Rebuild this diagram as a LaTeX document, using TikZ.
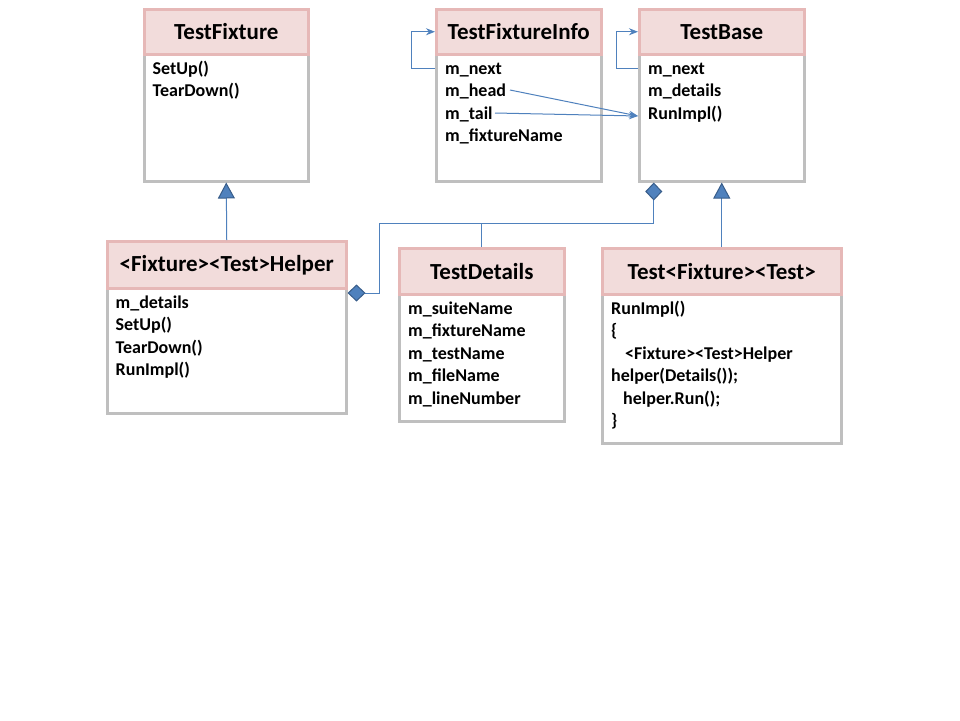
\documentclass[tikz,border=0pt]{standalone}
\usepackage{fontspec}
\setmainfont{Carlito}
\usetikzlibrary{arrows.meta,positioning,calc}

\definecolor{hdrfill}{RGB}{242,220,219}
\definecolor{hdrline}{RGB}{230,184,183}
\definecolor{bodyline}{RGB}{191,191,191}
\definecolor{linkblue}{RGB}{79,129,189}
\definecolor{tipedge}{RGB}{56,93,138}

\tikzset{
  >={Stealth[length=9pt,width=7pt]},
  every node/.append style={font=\bfseries},
}
\tikzset{
  hdr/.style={draw=hdrline, fill=hdrfill, line width=2.5pt, anchor=north west, inner sep=0pt,
    font=\fontsize{23}{27}\selectfont\bfseries},
  body/.style={draw=bodyline, fill=white, line width=2.5pt, anchor=north west, inner sep=0pt},
  members/.style={font=\fontsize{18}{22.5}\selectfont\bfseries, align=left, inner sep=0pt},
  link/.style={draw=linkblue, line width=1pt}
}

\begin{document}
\begin{tikzpicture}[
  x=1pt, y=-1pt,
  inherit/.style={link, -{Triangle[length=16pt, width=17pt, fill=linkblue, color=tipedge]}},
  agg/.style={link, {Diamond[length=18pt, width=17pt, fill=linkblue, color=tipedge]}-{Diamond[length=18pt, width=17pt, fill=linkblue, color=tipedge]}}
]
\useasboundingbox (0,0) rectangle (960,720);

% --- TestFixture ---
\node[body, minimum width=164pt, minimum height=127pt] (fixbody) at (143,53) {};
\node[hdr, minimum width=164pt, minimum height=45pt] (fix) at (143,8) {TestFixture};
\node[members, below right=5.25pt and 9.5pt of fixbody.north west] (fixmem) {\strut SetUp()\\TearDown()};

% --- TestFixtureInfo ---
\node[body, minimum width=165pt, minimum height=127pt] (infobody) at (435,53) {};
\node[hdr, minimum width=165pt, minimum height=45pt] (info) at (435,8) {TestFixtureInfo};
\node[members, below right=5.25pt and 10pt of infobody.north west] (infomem) {\strut m\_next\\m\_head\\m\_tail\\m\_fixtureName};

% --- TestBase ---
\node[body, minimum width=165pt, minimum height=127pt] (basebody) at (638,53) {};
\node[hdr, minimum width=165pt, minimum height=45pt] (base) at (638,8) {TestBase};
\node[members, below right=5.25pt and 10pt of basebody.north west] (basemem) {\strut m\_next\\m\_details\\RunImpl()};

% --- <Fixture><Test>Helper ---
\node[body, minimum width=239pt, minimum height=125pt] (helperbody) at (106,287) {};
\node[hdr, minimum width=239pt, minimum height=47pt] (helper) at (106,240) {<Fixture><Test>Helper};
\node[members, below right=5.25pt and 9.5pt of helperbody.north west] (helpermem) {\strut m\_details\\SetUp()\\TearDown()\\RunImpl()};

% --- TestDetails ---
\node[body, minimum width=165pt, minimum height=127pt] (detailsbody) at (398,293) {};
\node[hdr, minimum width=165pt, minimum height=46pt] (details) at (398,247) {TestDetails};
\node[members, below right=5.25pt and 10pt of detailsbody.north west] (detailsmem) {\strut m\_suiteName\\m\_fixtureName\\m\_testName\\m\_fileName\\m\_lineNumber};

% --- Test<Fixture><Test> ---
\node[body, minimum width=239pt, minimum height=149pt] (testbody) at (601,293) {};
\node[hdr, minimum width=239pt, minimum height=46pt] (test) at (601,247) {Test<Fixture><Test>};
\node[members, below right=5.25pt and 10pt of testbody.north west] (testmem) {\strut RunImpl()\\\{\\\hspace*{14pt}<Fixture><Test>Helper\\helper(Details());\\\hspace*{12pt}helper.Run();\\\}};

% --- self links ---
\draw[link, ->] ([yshift=-15pt]infobody.north west) -- ++(-24,0) |- (info.west);
\draw[link, ->] ([yshift=-15pt]basebody.north west) -- ++(-22,0) |- (base.west);

% --- head / tail into TestBase ---
\coordinate (headend) at (510,90);
\coordinate (tailend) at (495,113);
\coordinate (runimpl) at ([yshift=-63pt]basebody.north west);
\draw[link, ->] (headend) -- (runimpl);
\draw[link, ->] (tailend) -- (runimpl);

% --- inheritance ---
\draw[inherit] (helper.north) -- (fixbody.south);
\draw[inherit] (test.north) -- (basebody.south);

% --- aggregation ---
\coordinate (aggtop) at ([xshift=-68pt]basebody.south);
\coordinate (aggbend) at (379,223);
\coordinate (aggend) at ([yshift=-6pt]helperbody.north east);
\draw[agg] (aggtop) |- (aggbend) |- (aggend);
\draw[link] (details.north) -- (details.north |- aggbend);

\end{tikzpicture}
\end{document}
